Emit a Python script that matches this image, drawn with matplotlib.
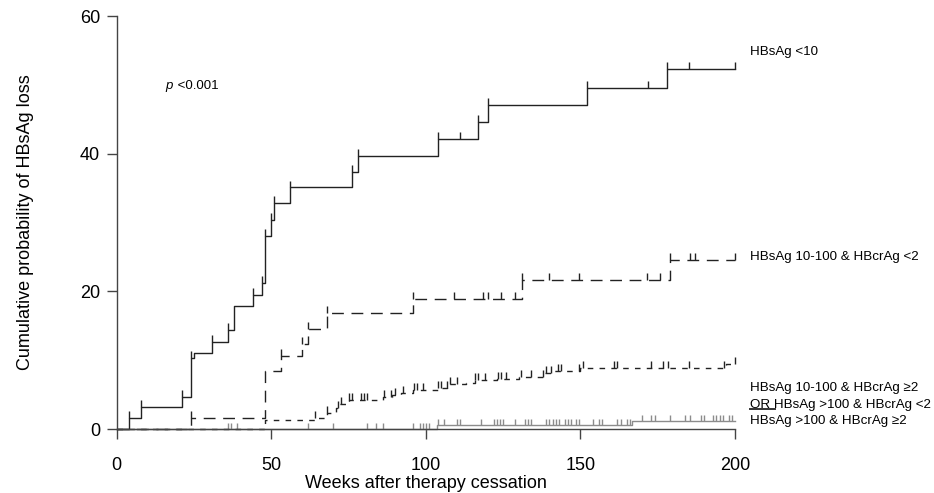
import numpy as np
import matplotlib
matplotlib.use("Agg")
import matplotlib.pyplot as plt
from matplotlib.lines import Line2D

plt.rcParams['font.family'] = ['Liberation Sans', 'DejaVu Sans']
plt.rcParams['lines.scale_dashes'] = False

# HBsAg <10
t_lt10 = [0, 4, 8, 21, 24, 25, 31, 36, 38, 44, 47, 48, 50, 51, 56, 76, 78, 104, 117, 120, 152, 178, 200]
p_lt10 = [0, 1.6, 3.2, 4.7, 10.3, 11.1, 12.7, 14.4, 17.9, 19.5, 21.2, 28.0, 30.4, 32.8, 35.1, 37.4, 39.7,
          42.2, 44.6, 47.1, 49.6, 52.3, 52.3]
c_lt10 = [4, 8, 21, 24, 31, 36, 44, 47, 48, 50, 51, 56, 76, 78, 104, 111, 117, 120, 152, 172, 178, 185, 200]

# HBsAg 10-100 & HBcrAg <2
t_mid_lo = [0, 24, 48, 53, 60, 62, 68, 96, 131, 179, 200]
p_mid_lo = [0, 1.65, 8.4, 10.6, 12.3, 14.6, 16.8, 18.9, 21.6, 24.6, 24.6]
c_mid_lo = [24, 53, 60, 62, 68, 96, 109, 118.5, 120, 124.3, 128.7, 131, 140, 149.7, 171.7, 175.6, 179,
            185.3, 187, 200]

# HBsAg 10-100 & HBcrAg >=2 OR HBsAg >100 & HBcrAg <2
t_mid_hi = [0, 48, 64, 68, 71, 72, 75, 86, 89, 92, 96, 104, 107, 113, 116, 123, 130, 138, 141, 150, 197, 200]
p_mid_hi = [0, 1.3, 1.6, 2.3, 3.0, 3.6, 4.2, 4.7, 4.9, 5.3, 5.7, 6.0, 6.6, 6.7, 7.1, 7.3, 7.6, 8.2, 8.4,
            8.9, 9.5, 9.5]
c_mid_hi = [64, 68, 71.5, 72.5, 75, 76, 79, 80, 81, 86.6, 88.8, 89.9, 92.5, 96.3, 97, 99, 104, 105, 106.7,
            107.8, 110, 116, 116.8, 119, 123.3, 124.4, 126, 130.8, 134, 137.8, 139, 140.5, 142.6, 143.7,
            149.6, 150.7, 161, 162, 172.8, 176.6, 178.2, 185.2, 196.5, 200]

# HBsAg >100 & HBcrAg >=2
t_hi = [0, 103.5, 166.6, 200]
p_hi = [0, 0.6, 1.1, 1.1]
c_hi = [36, 37, 39, 62, 70, 81, 84, 86, 96, 98, 99, 100, 101, 104, 106, 110, 111, 118, 122, 123, 124, 125,
        129, 132, 133, 134, 139, 140, 141, 142, 143, 145, 146, 147, 148.5, 149.5, 154, 156, 157, 162, 163,
        165, 166, 170, 173, 174, 179, 184, 185.5, 189, 190, 193, 194, 195, 196, 198, 199]

labels = ['HBsAg <10', 'HBsAg 10-100 & HBcrAg <2', 'HBsAg 10-100 & HBcrAg \u22652',
          'OR HBsAg >100 & HBcrAg <2', 'HBsAg >100 & HBcrAg \u22652']


def level_at(times, levels, t):
    i = np.searchsorted(times, t, side='right') - 1
    return np.array(levels)[i]


fig = plt.figure(figsize=(9.34, 4.93), dpi=100)
ax = fig.add_axes([0.1249, 0.1298, 0.662, 0.8377])

groups = [
    (t_hi, p_hi, c_hi, '#8c8c8c', '-', 0.9),
    (t_mid_hi, p_mid_hi, c_mid_hi, '#222222', (0, (4, 4.5)), 1.0),
    (t_mid_lo, p_mid_lo, c_mid_lo, '#222222', (0, (8.5, 5.5)), 1.0),
    (t_lt10, p_lt10, c_lt10, '#222222', '-', 1.0),
]
for t, p, c, col, ls, h in groups:
    ax.step(t, p, where='post', color=col, lw=1.0, linestyle=ls, clip_on=False)
    lv = level_at(t, p, np.array(c, dtype=float))
    ax.vlines(c, lv, lv + h, color=col, lw=1.0, clip_on=False)

ax.set_xlim(0, 200)
ax.set_ylim(0, 60)
ax.set_xticks([0, 50, 100, 150, 200])
ax.set_yticks([0, 20, 40, 60])
for s in ['top', 'right']:
    ax.spines[s].set_visible(False)
for s in ['left', 'bottom']:
    ax.spines[s].set_color('#444444')
    ax.spines[s].set_linewidth(1.0)
ax.tick_params(direction='out', length=7.5, width=1.0, color='#444444', labelsize=13)
ax.tick_params(axis='x', pad=12.5)
ax.tick_params(axis='y', pad=4.5)
ax.set_xlabel('Weeks after therapy cessation', fontsize=13, labelpad=1)
ax.set_ylabel('Cumulative probability of HBsAg loss', fontsize=13, labelpad=33)

ax.text(15.8, 49.9, 'p', style='italic', fontsize=9.5, va='center')
ax.text(18.4, 49.9, ' <0.001', fontsize=9.5, va='center')

tx = 205
fs = 9.6
ax.text(tx, 54.8, labels[0], fontsize=fs, va='center', clip_on=False)
ax.text(tx, 25.0, labels[1], fontsize=fs, va='center', clip_on=False)
ax.text(tx, 6.0, labels[2], fontsize=fs, va='center', clip_on=False)
ax.text(tx, 3.5, labels[3], fontsize=fs, va='center', clip_on=False)
t_or = ax.text(tx, 3.5, 'OR', fontsize=fs, va='center', clip_on=False, alpha=0)
ax.text(tx, 1.2, labels[4], fontsize=fs, va='center', clip_on=False)

fig.canvas.draw()
bb = t_or.get_window_extent()
x0, x1 = bb.x0 / fig.bbox.width, (bb.x1 + 4) / fig.bbox.width
yy = (bb.y0 + 1.5) / fig.bbox.height
fig.add_artist(Line2D([x0, x1], [yy, yy], transform=fig.transFigure, color='#333333', lw=1.4))

fig.savefig('out.png', dpi=100)
